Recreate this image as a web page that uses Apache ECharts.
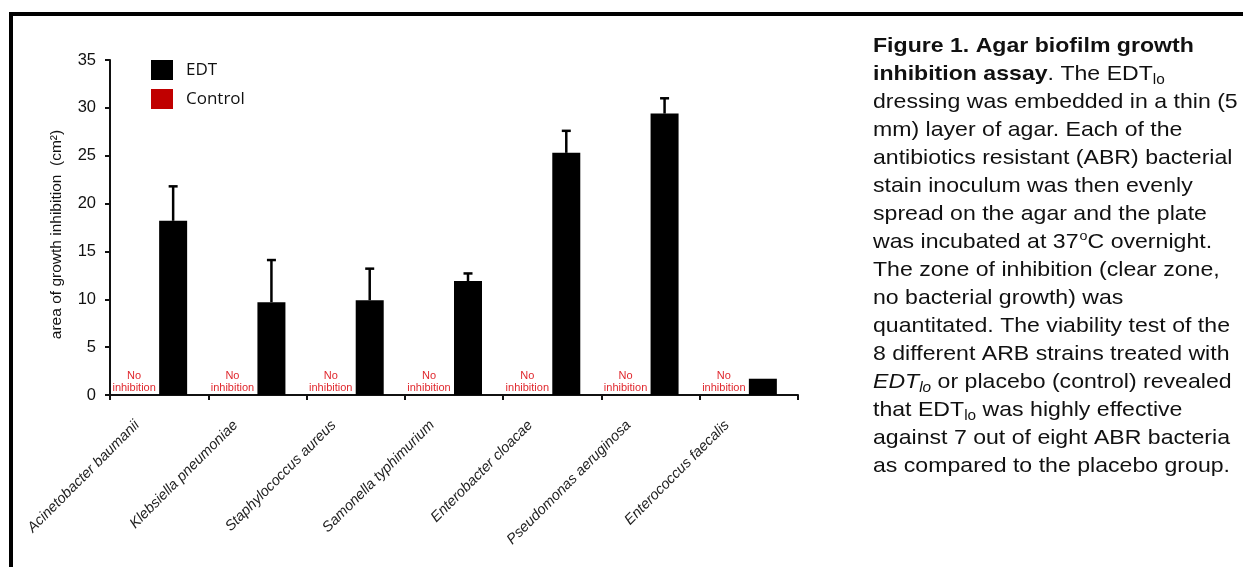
<!DOCTYPE html>
<html>
<head>
<meta charset="utf-8">
<script src="https://cdn.jsdelivr.net/npm/echarts@6/dist/echarts.min.js"></script>
<style>
html, body { margin: 0; padding: 0; background: #fff; }
#chart { width: 1243px; height: 567px; }
</style>
</head>
<body>
<div id="chart"></div>
<script>
// Bacterial strains tested
const categories = [
  'Acinetobacter baumanii',
  'Klebsiella pneumoniae',
  'Staphylococcus aureus',
  'Samonella typhimurium',
  'Enterobacter cloacae',
  'Pseudomonas aeruginosa',
  'Enterococcus faecalis'
];
// Mean area of growth inhibition (cm²) for the EDT dressing
const edtValues = [18.2, 9.7, 9.9, 11.9, 25.3, 29.4, 1.7];
// Upper end of each error bar (mean + SD); null where none is drawn
const edtErrorTop = [21.8, 14.1, 13.2, 12.7, 27.6, 31.0, null];
// Control (placebo) gave no inhibition for any strain
const controlValues = [0, 0, 0, 0, 0, 0, 0];
const controlLabel = 'No\ninhibition';

// y axis range
const yMin = 0, yMax = 35, yStep = 5;

// Caption text, one entry per line (rich-text markup)
const captionLines = [
  '{b|Figure 1. Agar biofilm growth}',
  '{b|inhibition assay}{r|. The EDT}{sub|lo}',
  '{r|dressing was embedded in a thin (5}',
  '{r|mm) layer of agar. Each of the}',
  '{r|antibiotics resistant (ABR) bacterial}',
  '{r|stain inoculum was then evenly}',
  '{r|spread on the agar and the plate}',
  '{r|was incubated at 37}{sup|o}{r|C overnight.}',
  '{r|The zone of inhibition (clear zone,}',
  '{r|no bacterial growth) was}',
  '{r|quantitated. The viability test of the}',
  '{r|8 different ARB strains treated with}',
  '{i|EDT}{isub|lo}{r| or placebo (control) revealed}',
  '{r|that EDT}{sub|lo}{r| was highly effective}',
  '{r|against 7 out of eight ABR bacteria}',
  '{r|as compared to the placebo group.}'
];

const FONT = '"Liberation Sans", Arial, sans-serif';
const BAR_W = 28;

const errorData = edtErrorTop
  .map((hi, i) => hi == null ? null : [i, edtValues[i], hi])
  .filter(d => d !== null);

const chart = echarts.init(document.getElementById('chart'), null, { renderer: 'canvas' });

const CAP_SIZE = 21;
const capStyle = { fontFamily: FONT, fontSize: CAP_SIZE, color: '#111', lineHeight: 28 };
const smallStyle = { fontFamily: FONT, fontSize: 14, color: '#111', lineHeight: 14 };

chart.setOption({
  animation: false,
  backgroundColor: '#fff',
  textStyle: { fontFamily: FONT },
  grid: { left: 110, top: 60, right: 445, bottom: 172, containLabel: false },
  legend: {
    data: ['EDT', 'Control'],
    orient: 'vertical',
    left: 151,
    top: 60,
    padding: 0,
    icon: 'rect',
    itemWidth: 22,
    itemHeight: 20,
    itemGap: 9,
    textStyle: { fontFamily: '"Open Sans", sans-serif', fontSize: 17, color: '#111', padding: [0, 0, 0, 8] }
  },
  xAxis: {
    type: 'category',
    data: categories,
    axisLine: { lineStyle: { color: '#111', width: 2 } },
    axisTick: { show: true, length: 5, lineStyle: { color: '#111', width: 2 } },
    axisLabel: {
      interval: 0,
      rotate: 45,
      margin: 6,
      fontStyle: 'italic',
      fontSize: 14.5,
      color: '#222',
      fontFamily: FONT,
      padding: [0, 31, 0, 0]
    }
  },
  yAxis: {
    type: 'value',
    min: yMin,
    max: yMax,
    interval: yStep,
    name: 'area of growth inhibition  (cm²)',
    nameLocation: 'middle',
    nameGap: 45,
    nameTextStyle: { fontSize: 15.5, color: '#111', fontFamily: FONT, padding: [0, 14, 0, 0] },
    splitLine: { show: false },
    axisLine: { show: true, lineStyle: { color: '#111', width: 2 } },
    axisTick: { show: true, length: 5, lineStyle: { color: '#111', width: 2 } },
    axisLabel: { fontSize: 16.5, color: '#111', margin: 14, fontFamily: FONT }
  },
  series: [
    {
      name: 'Control',
      type: 'bar',
      data: controlValues,
      barWidth: BAR_W,
      barGap: '0%',
      itemStyle: { color: '#C00000' },
      label: {
        show: true,
        position: 'top',
        distance: 1,
        offset: [-11, 0],
        formatter: () => controlLabel,
        fontSize: 11,
        lineHeight: 12,
        color: '#E0282E',
        fontFamily: FONT
      }
    },
    {
      name: 'EDT',
      type: 'bar',
      data: edtValues,
      barWidth: BAR_W,
      barGap: '0%',
      itemStyle: { color: '#000' }
    },
    {
      name: 'EDT error',
      type: 'custom',
      data: errorData,
      z: 5,
      renderItem: (params, api) => {
        const i = api.value(0);
        const base = api.coord([i, api.value(1)]);
        const top = api.coord([i, api.value(2)]);
        const x = base[0] + BAR_W / 2;
        const st = { stroke: '#000', lineWidth: 2.5 };
        return {
          type: 'group',
          children: [
            { type: 'line', shape: { x1: x, y1: base[1], x2: x, y2: top[1] }, style: st },
            { type: 'line', shape: { x1: x - 4.5, y1: top[1], x2: x + 4.5, y2: top[1] }, style: st }
          ]
        };
      }
    }
  ],
  graphic: [
    {
      // figure frame, open towards the right and bottom edges
      type: 'rect',
      shape: { x: 11, y: 14, width: 1400, height: 700 },
      style: { fill: null, stroke: '#000', lineWidth: 4 },
      silent: true
    },
    {
      // caption set in a slightly widened face
      type: 'text',
      x: 873,
      y: 32,
      scaleX: 1.1,
      scaleY: 1,
      style: {
        text: captionLines.join('\n'),
        fontFamily: FONT,
        fontSize: CAP_SIZE,
        lineHeight: 28,
        fill: '#111',
        verticalAlign: 'top',
        align: 'left',
        rich: {
          r: capStyle,
          b: Object.assign({}, capStyle, { fontWeight: 'bold' }),
          i: Object.assign({}, capStyle, { fontStyle: 'italic' }),
          sub: Object.assign({}, smallStyle, { verticalAlign: 'bottom', padding: [0, 0, 1, 0] }),
          isub: Object.assign({}, smallStyle, { fontStyle: 'italic', verticalAlign: 'bottom', padding: [0, 0, 1, 0] }),
          sup: Object.assign({}, smallStyle, { fontSize: 13, lineHeight: 13, verticalAlign: 'top', padding: [2, 0, 0, 1] })
        }
      }
    }
  ]
});
</script>
</body>
</html>
